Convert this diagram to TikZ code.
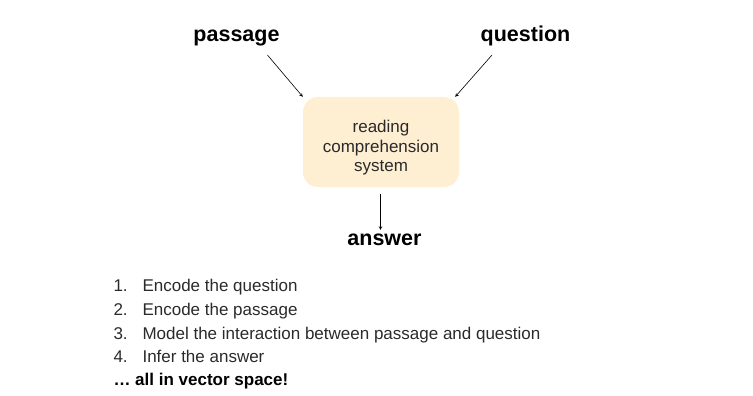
\documentclass[tikz,border=0pt]{standalone}
\usepackage{fontspec}
\setmainfont{Liberation Sans}
\usetikzlibrary{arrows, positioning}
\definecolor{boxfill}{HTML}{FEEED2}
\definecolor{textgray}{HTML}{2A2A2A}

\begin{document}
\begin{tikzpicture}[x=1pt, y=-1pt, ->, >=stealth, every node/.style={align=center, text=textgray}]
    \useasboundingbox (0,0) rectangle (753,396);
    \tikzset{bigword/.style={font=\fontsize{21.5}{24}\selectfont\bfseries, text=black, anchor=base},
             listitem/.style={font=\fontsize{17}{20}\selectfont, anchor=base west}}
    \node (sys) [fill=boxfill, rounded corners=15pt, minimum width=156pt, minimum height=90pt, text height=63pt, font=\fontsize{17}{19.5}\selectfont] at (381,142) {reading\\comprehension\\system};
    \node (passage) [bigword] at (236.5,42) {passage};
    \node (question) [bigword] at (525.5,42) {question};
    \node (answer) [bigword] at (384.5,245) {answer};
    \draw[semithick] ([shift={(31,5)}]passage.south) -- (sys.north west);
    \draw[semithick] ([shift={(-33.5,5)}]question.south) -- ([xshift=-4pt]sys.north east);
    \draw[semithick, shorten <=7pt] ([xshift=-0.5pt]sys.south) -- ([xshift=-0.5pt]sys.south |- answer.north);
    % steps
    \node (n1) [listitem] at (110,291) {1.};
    \node (n2) [listitem] at (110,315) {2.};
    \node (n3) [listitem] at (110,339) {3.};
    \node (n4) [listitem] at (110,362) {4.};
    \node (s1) [listitem] at (139,291) {Encode the question};
    \node (s2) [listitem] at (139,315) {Encode the passage};
    \node (s3) [listitem] at (139,339) {Model the interaction between passage and question};
    \node (s4) [listitem] at (139,362) {Infer the answer};
    \node (all) [listitem, font=\fontsize{17}{20}\selectfont\bfseries, text=black] at (110,385) {… all in vector space!};
  \end{tikzpicture}
\end{document}
